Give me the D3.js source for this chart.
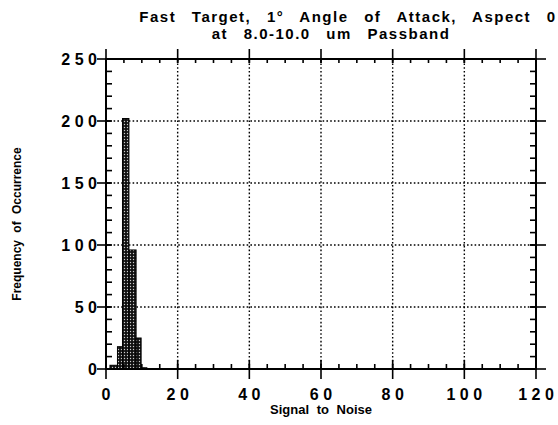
<!DOCTYPE html>
<meta charset="utf-8">
<body style="margin:0;background:#fff">
<script src="https://d3js.org/d3.v7.min.js"></script>
<script>

// histogram bins (signal to noise) and counts
var binEdges = [1.1, 3.2, 4.6, 6.4, 8.4, 9.8, 11.4];
var counts   = [3, 18, 202, 96, 25, 1];

var xTicks = [0, 20, 40, 60, 80, 100, 120];
var yTicks = [0, 50, 100, 150, 200, 250];

var titleLines = ["Fast Target, 1\u00b0 Angle of Attack, Aspect 0",
                  "at 8.0-10.0 um Passband"];

var W = 558, H = 425;
var margin = {top: 59, right: 22, bottom: 56, left: 106};

var x = d3.scaleLinear().domain([0, 120]).range([margin.left, W - margin.right]);
var y = d3.scaleLinear().domain([0, 250]).range([H - margin.bottom, margin.top]);

var svg = d3.select("body").append("svg")
    .attr("width", W)
    .attr("height", H)
    .style("font-family", "'Liberation Sans', Arial, sans-serif");

svg.append("rect").attr("width", W).attr("height", H).attr("fill", "#fff");

// stipple pattern for the bars
var pat = svg.append("defs").append("pattern")
    .attr("id", "stip")
    .attr("patternUnits", "userSpaceOnUse")
    .attr("width", 3).attr("height", 3);
pat.append("rect").attr("width", 3).attr("height", 3).attr("fill", "#111");
pat.append("circle").attr("cx", 1.5).attr("cy", 1.5).attr("r", 0.7).attr("fill", "#ccc");

// dotted grid
var grid = svg.append("g")
    .attr("stroke", "#000")
    .attr("stroke-width", 1.4)
    .attr("stroke-dasharray", "1.6,2.2");

grid.selectAll(".gx")
    .data(xTicks.slice(1, -1))
  .enter().append("line")
    .attr("x1", d => x(d)).attr("x2", d => x(d))
    .attr("y1", y(0)).attr("y2", y(250));

grid.selectAll(".gy")
    .data(yTicks.slice(1, -1))
  .enter().append("line")
    .attr("y1", d => y(d)).attr("y2", d => y(d))
    .attr("x1", x(0)).attr("x2", x(120));

// bars
svg.selectAll(".bar")
    .data(counts)
  .enter().append("rect")
    .attr("class", "bar")
    .attr("x", (d, i) => x(binEdges[i]))
    .attr("width", (d, i) => x(binEdges[i + 1]) - x(binEdges[i]))
    .attr("y", d => y(d))
    .attr("height", d => y(0) - y(d))
    .attr("fill", "url(#stip)")
    .attr("stroke", "#000")
    .attr("stroke-width", 1);

// frame
svg.append("rect")
    .attr("x", x(0)).attr("y", y(250))
    .attr("width", x(120) - x(0))
    .attr("height", y(0) - y(250))
    .attr("fill", "none")
    .attr("stroke", "#000")
    .attr("stroke-width", 2);

var ticks = svg.append("g").attr("stroke", "#000").attr("stroke-width", 1.6);

// minor ticks (inward)
var xMinor = x.ticks(24), yMinor = y.ticks(25);
ticks.selectAll(".mxb").data(xMinor).enter().append("line")
    .attr("x1", d => x(d)).attr("x2", d => x(d))
    .attr("y1", y(0)).attr("y2", y(0) - 5);
ticks.selectAll(".mxt").data(xMinor).enter().append("line")
    .attr("x1", d => x(d)).attr("x2", d => x(d))
    .attr("y1", y(250)).attr("y2", y(250) + 4);
ticks.selectAll(".myl").data(yMinor).enter().append("line")
    .attr("y1", d => y(d)).attr("y2", d => y(d))
    .attr("x1", x(0)).attr("x2", x(0) + 6);
ticks.selectAll(".myr").data(yMinor).enter().append("line")
    .attr("y1", d => y(d)).attr("y2", d => y(d))
    .attr("x1", x(120)).attr("x2", x(120) - 6);

// major ticks (crossing the frame)
ticks.selectAll(".Mxb").data(xTicks).enter().append("line")
    .attr("x1", d => x(d)).attr("x2", d => x(d))
    .attr("y1", y(0) - 9).attr("y2", y(0) + 10);
ticks.selectAll(".Mxt").data(xTicks).enter().append("line")
    .attr("x1", d => x(d)).attr("x2", d => x(d))
    .attr("y1", y(250) - 10).attr("y2", y(250) + 4);
ticks.selectAll(".Myl").data(yTicks).enter().append("line")
    .attr("y1", d => y(d)).attr("y2", d => y(d))
    .attr("x1", x(0) - 9).attr("x2", x(0) + 4);
ticks.selectAll(".Myr").data(yTicks).enter().append("line")
    .attr("y1", d => y(d)).attr("y2", d => y(d))
    .attr("x1", x(120) - 6).attr("x2", x(120) + 10);

// tick labels, widely spaced digits
var ls = 4.5;
svg.selectAll(".xl").data(xTicks).enter().append("text")
    .attr("x", d => x(d) + ls / 2)
    .attr("y", y(0) + 31)
    .attr("text-anchor", "middle")
    .attr("font-size", 16).attr("font-weight", "bold")
    .attr("letter-spacing", ls)
    .text(d => d);

svg.selectAll(".yl").data(yTicks).enter().append("text")
    .attr("x", x(0) - 9 + ls)
    .attr("y", d => y(d) + 6)
    .attr("text-anchor", "end")
    .attr("font-size", 16).attr("font-weight", "bold")
    .attr("letter-spacing", ls)
    .text(d => d);

// axis titles
svg.append("text")
    .attr("x", (x(0) + x(120)) / 2)
    .attr("y", 414)
    .attr("text-anchor", "middle")
    .attr("font-size", 13).attr("font-weight", "bold")
    .attr("word-spacing", 4)
    .text("Signal to Noise");

svg.append("text")
    .attr("transform", "translate(21,224) rotate(-90)")
    .attr("text-anchor", "middle")
    .attr("font-size", 12).attr("font-weight", "bold")
    .attr("word-spacing", 4)
    .text("Frequency of Occurrence");

// chart title
svg.selectAll(".title").data(titleLines).enter().append("text")
    .attr("x", (d, i) => i === 0 ? 348 : 331)
    .attr("y", (d, i) => 21.5 + i * 17.5)
    .attr("text-anchor", "middle")
    .attr("font-size", 15).attr("font-weight", "bold")
    .attr("letter-spacing", 1.5)
    .attr("word-spacing", 10)
    .text(d => d);

</script>
</body>
